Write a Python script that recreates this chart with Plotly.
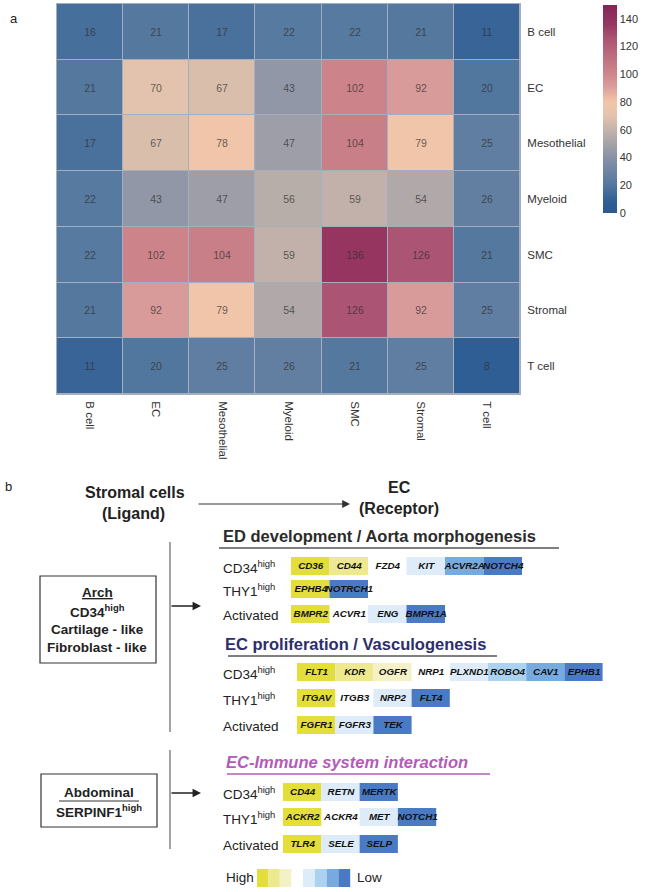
import plotly.graph_objects as go

# ---------------- data : panel a ----------------
cell_types = ["B cell", "EC", "Mesothelial", "Myeloid", "SMC", "Stromal", "T cell"]
row_b_cell = [16, 21, 17, 22, 22, 21, 11]
row_ec = [21, 70, 67, 43, 102, 92, 20]
row_mesothelial = [17, 67, 78, 47, 104, 79, 25]
row_myeloid = [22, 43, 47, 56, 59, 54, 26]
row_smc = [22, 102, 104, 59, 136, 126, 21]
row_stromal = [21, 92, 79, 54, 126, 92, 25]
row_t_cell = [11, 20, 25, 26, 21, 25, 8]
colorbar_ticks = [0, 20, 40, 60, 80, 100, 120, 140]

# ---------------- data : panel b ----------------
row_labels = ["CD34<sup>high</sup>", "THY1<sup>high</sup>", "Activated"]
section_titles = ["ED development / Aorta morphogenesis",
                  "EC proliferation / Vasculogenesis",
                  "EC-Immune system interaction"]
# expression level: 1-3 yellow (high), 4-7 blue (low), 0 = none
ed_cd34_genes = ["CD36", "CD44", "FZD4", "KIT", "ACVR2A", "NOTCH4"]
ed_cd34_levels = [1, 2, 0, 4, 6, 7]
ed_thy1_genes = ["EPHB4", "NOTRCH1"]
ed_thy1_levels = [1, 7]
ed_act_genes = ["BMPR2", "ACVR1", "ENG", "BMPR1A"]
ed_act_levels = [1, 0, 4, 7]
ec_cd34_genes = ["FLT1", "KDR", "OGFR", "NRP1", "PLXND1", "ROBO4", "CAV1", "EPHB1"]
ec_cd34_levels = [1, 2, 3, 0, 4, 5, 6, 7]
ec_thy1_genes = ["ITGAV", "ITGB3", "NRP2", "FLT4"]
ec_thy1_levels = [1, 0, 4, 7]
ec_act_genes = ["FGFR1", "FGFR3", "TEK"]
ec_act_levels = [1, 4, 7]
im_cd34_genes = ["CD44", "RETN", "MERTK"]
im_cd34_levels = [1, 4, 7]
im_thy1_genes = ["ACKR2", "ACKR4", "MET", "NOTCH1"]
im_thy1_levels = [1, 0, 4, 7]
im_act_genes = ["TLR4", "SELE", "SELP"]
im_act_levels = [1, 4, 7]
legend_high_levels = [1, 2, 3]
legend_low_levels = [4, 5, 6, 7]

# ---------------- styling ----------------
W, H = 661, 892
FONT = "Liberation Sans, Arial, sans-serif"

level_colors = {0: "rgba(0,0,0,0)", 1: "#e4de3a", 2: "#eee98f", 3: "#f5f1c6",
                4: "#ddecf8", 5: "#abd3f0", 6: "#77abdf", 7: "#4a7ac4"}

cmax = 150.0
cstops = [(0, "#2a5990"), (8, "#2f5e94"), (20, "#52779f"), (40, "#8892a7"),
          (55, "#b4aba9"), (70, "#e3c3ad"), (80, "#f3c5a8"), (92, "#d99b9a"),
          (102, "#cc8389"), (126, "#ab5473"), (136, "#963660"), (150, "#842558")]
colorscale = [[v / cmax, c] for v, c in cstops]

z = [row_b_cell, row_ec, row_mesothelial, row_myeloid, row_smc, row_stromal, row_t_cell]

fig = go.Figure()
fig.add_trace(go.Heatmap(
    z=z, x=cell_types, y=cell_types, colorscale=colorscale, zmin=0, zmax=cmax,
    xgap=1, ygap=1, texttemplate="%{z}",
    textfont=dict(family=FONT, size=10.5, color="rgba(45,45,45,0.72)"),
    hoverinfo="skip",
    colorbar=dict(x=603 / W, xanchor="left", xpad=0, y=1 - 5 / H, yanchor="top", ypad=0,
                  lenmode="pixels", len=208, thicknessmode="pixels", thickness=14,
                  outlinewidth=0, tickvals=colorbar_ticks, ticks="",
                  tickfont=dict(family=FONT, size=11, color="#333")),
))

# ---------- panel b : helper axis in figure pixel units ----------
XA, YA = "x2", "y2"
sections = [
    dict(title_x=222, title_y=536, ul=(219, 559, 548), color="#2b2b2b", italic=False,
         start=291, slot=38.5, rows=[567, 590, 615],
         genes=[ed_cd34_genes, ed_thy1_genes, ed_act_genes],
         levels=[ed_cd34_levels, ed_thy1_levels, ed_act_levels]),
    dict(title_x=224, title_y=644, ul=(228, 497, 656), color="#2d2d6b", italic=False,
         start=297, slot=38.2, rows=[673, 699, 726],
         genes=[ec_cd34_genes, ec_thy1_genes, ec_act_genes],
         levels=[ec_cd34_levels, ec_thy1_levels, ec_act_levels]),
    dict(title_x=225, title_y=762, ul=(227, 490, 774), color="#b35bb8", italic=True,
         start=283, slot=38.3, rows=[793, 818, 845],
         genes=[im_cd34_genes, im_thy1_genes, im_act_genes],
         levels=[im_cd34_levels, im_thy1_levels, im_act_levels]),
]

bx, bb, by, bc = [], [], [], []
tx, ty, tt = [], [], []
shapes = []
annotations = []


def ann(x, y, text, size, bold=False, color="#222", xanchor="center", italic=False):
    annotations.append(dict(x=x, y=y, xref=XA, yref=YA, text=text, showarrow=False,
                            xanchor=xanchor, yanchor="middle", borderpad=0,
                            font=dict(family=FONT, size=size, color=color,
                                      weight="bold" if bold else "normal",
                                      style="italic" if italic else "normal")))


for k, s in enumerate(sections):
    ann(s["title_x"], s["title_y"], section_titles[k], 16.5, True, s["color"], "left",
        s["italic"])
    x0, x1, yl = s["ul"]
    shapes.append(dict(type="line", xref=XA, yref=YA, x0=x0, x1=x1, y0=yl, y1=yl,
                       line=dict(color=s["color"] if s["italic"] else "#555", width=1.5)))
    for ry, lab, genes, lev in zip(s["rows"], row_labels, s["genes"], s["levels"]):
        ann(222, ry, lab, 13.5, False, "#222", "left")
        for i, (g, l) in enumerate(zip(genes, lev)):
            left = s["start"] + i * s["slot"]
            bx.append(s["slot"]); bb.append(left); by.append(ry - 1); bc.append(level_colors[l])
            tx.append(left + s["slot"] / 2 + 0.5); ty.append(ry); tt.append(g)

# legend
for i, l in enumerate(legend_high_levels):
    bx.append(11.4); bb.append(257 + i * 11.4); by.append(878); bc.append(level_colors[l])
for i, l in enumerate(legend_low_levels):
    bx.append(11.8); bb.append(303 + i * 11.8); by.append(878); bc.append(level_colors[l])
ann(225, 877, "High", 13.5, False, "#222", "left")
ann(356, 877, "Low", 13.5, False, "#222", "left")

fig.add_trace(go.Bar(orientation="h", x=bx, base=bb, y=by, width=[18] * len(bx),
                     marker=dict(color=bc, line=dict(width=0)), xaxis=XA, yaxis=YA,
                     showlegend=False, hoverinfo="skip"))
fig.add_trace(go.Scatter(x=tx, y=ty, text=tt, mode="text", xaxis=XA, yaxis=YA,
                         textfont=dict(family=FONT, size=9.8, color="#111", weight="bold",
                                       style="italic"),
                         textposition="middle center", showlegend=False, hoverinfo="skip"))

# headers
ann(135, 492, "Stromal cells", 16, True)
ann(133, 513, "(Ligand)", 16, True)
ann(399, 487, "EC", 16, True)
ann(399, 508, "(Receptor)", 16, True)
annotations.append(dict(x=350, y=504, ax=197, ay=504, xref=XA, yref=YA, axref=XA, ayref=YA,
                        showarrow=True, arrowhead=2, arrowsize=1.3, arrowwidth=1.2,
                        arrowcolor="#333", text=""))

# left boxes
shapes.append(dict(type="rect", xref=XA, yref=YA, x0=40, x1=156, y0=576, y1=663,
                   line=dict(color="#333", width=1.2)))
ann(97, 592, "<u>Arch</u>", 13.5, True)
ann(97, 611, "CD34<sup>high</sup>", 13.5, True)
ann(97, 629, "Cartilage - like", 13.5, True)
ann(97, 647, "Fibroblast - like", 13.5, True)
shapes.append(dict(type="rect", xref=XA, yref=YA, x0=41, x1=157, y0=774, y1=827,
                   line=dict(color="#333", width=1.2)))
ann(99, 792, "Abdominal", 13.5, True)
shapes.append(dict(type="line", xref=XA, yref=YA, x0=59, x1=139, y0=801, y1=801,
                   line=dict(color="#333", width=1.2)))
ann(99, 811, "SERPINF1<sup>high</sup>", 13.5, True)

# connector lines and arrows
shapes.append(dict(type="line", xref=XA, yref=YA, x0=170, x1=170, y0=542, y1=732,
                   line=dict(color="#666", width=1.2)))
shapes.append(dict(type="line", xref=XA, yref=YA, x0=170, x1=170, y0=750, y1=849,
                   line=dict(color="#666", width=1.2)))
for ay in (606, 793):
    annotations.append(dict(x=201, y=ay, ax=170, ay=ay, xref=XA, yref=YA, axref=XA, ayref=YA,
                            showarrow=True, arrowhead=2, arrowsize=1.3, arrowwidth=1.3,
                            arrowcolor="#222", text=""))

# panel letters
ann(14, 18, "a", 13, False, "#222")
ann(8, 486, "b", 13, False, "#222")

# heatmap gap colour
shapes.insert(0, dict(type="rect", xref="x domain", yref="y domain", x0=0, x1=1, y0=0, y1=1,
                      fillcolor="#a4aebe", line=dict(width=0), layer="below"))

axis_font = dict(family=FONT, size=11.5, color="#333")
fig.update_layout(
    width=W, height=H, margin=dict(l=0, r=0, t=0, b=0),
    paper_bgcolor="white", plot_bgcolor="rgba(0,0,0,0)",
    barmode="overlay", showlegend=False,
    xaxis=dict(domain=[57 / W, 520 / W], anchor="y", side="bottom", tickangle=90,
               showgrid=False, zeroline=False, ticks="", tickfont=axis_font,
               ticklabelstandoff=4, showline=True, mirror=True, linecolor="#a4aebe"),
    yaxis=dict(domain=[1 - 394 / H, 1 - 4 / H], anchor="x", side="right",
               autorange="reversed", showgrid=False, zeroline=False, ticks="",
               tickfont=axis_font, ticklabelstandoff=4, showline=True, mirror=True,
               linecolor="#a4aebe"),
    xaxis2=dict(domain=[0, 1], anchor="y2", range=[0, W], visible=False, fixedrange=True),
    yaxis2=dict(domain=[0, 1], anchor="x2", range=[H, 0], visible=False, fixedrange=True),
    shapes=shapes, annotations=annotations,
)
fig.write_html("out.html", config={"displayModeBar": False},
               post_script="document.body.style.margin='0px';document.body.style.overflow='hidden';")
